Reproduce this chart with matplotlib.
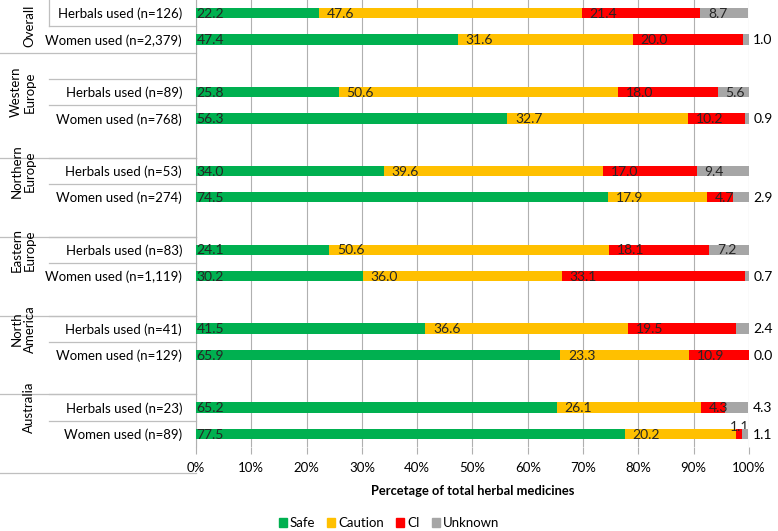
import matplotlib
matplotlib.use("Agg")
import matplotlib.pyplot as plt
from matplotlib.lines import Line2D
from matplotlib.patches import Patch
import numpy as np

plt.rcParams['font.family'] = ['Lato', 'DejaVu Sans']

# data (percent of total herbal medicines)
groups = ["Overall", "Western\nEurope", "Northern\nEurope", "Eastern\nEurope",
          "North\nAmerica", "Australia"]
row_labels = ["Herbals used (n=126)", "Women used (n=2,379)",
              "Herbals used (n=89)", "Women used (n=768)",
              "Herbals used (n=53)", "Women used (n=274)",
              "Herbals used (n=83)", "Women used (n=1,119)",
              "Herbals used (n=41)", "Women used (n=129)",
              "Herbals used (n=23)", "Women used (n=89)"]
safe = [22.2, 47.4, 25.8, 56.3, 34.0, 74.5, 24.1, 30.2, 41.5, 65.9, 65.2, 77.5]
caution = [47.6, 31.6, 50.6, 32.7, 39.6, 17.9, 50.6, 36.0, 36.6, 23.3, 26.1, 20.2]
ci = [21.4, 20.0, 18.0, 10.2, 17.0, 4.7, 18.1, 33.1, 19.5, 10.9, 4.3, 1.1]
unknown = [8.7, 1.0, 5.6, 0.9, 9.4, 2.9, 7.2, 0.7, 2.4, 0.0, 4.3, 1.1]

series = [("Safe", safe, "#00B050"), ("Caution", caution, "#FFC000"),
          ("CI", ci, "#FF0000"), ("Unknown", unknown, "#A6A6A6")]

# slot layout: Overall uses 2 slots, other groups have a blank slot first
ypos = []
for g in range(len(groups)):
    base = 0 if g == 0 else 3 * g
    ypos += [base, base + 1]
ypos = np.array(ypos)
nslots = 17
bar_h = 0.4

fig = plt.figure(figsize=(7.78, 5.31), dpi=100)
ax = fig.add_axes([196 / 778, 1 - 447 / 531, 553 / 778, 447 / 531])

left = np.zeros(len(ypos))
txt_col = "#262626"
fs = 10
for k, (name, vals, col) in enumerate(series):
    vals = np.array(vals)
    ax.barh(ypos, vals, left=left, height=bar_h, color=col, zorder=3)
    for i, v in enumerate(vals):
        lbl = f"{v:.1f}"
        if name == "Unknown" and v < 5:
            ax.annotate(lbl, (left[i] + v, ypos[i]), xytext=(3, -0.5),
                        textcoords="offset points", ha="left", va="center",
                        fontsize=fs, color="black", annotation_clip=False)
        elif name == "CI" and v < 2:
            ax.annotate(lbl, (left[i] + v / 2, ypos[i] - bar_h / 2),
                        xytext=(0, 1.5), textcoords="offset points",
                        ha="center", va="center", fontsize=fs, color=txt_col)
        else:
            off = 0.3 if k == 0 else 5.5
            ax.annotate(lbl, (left[i], ypos[i]), xytext=(off, -0.5),
                        textcoords="offset points", ha="left", va="center",
                        fontsize=fs, color=txt_col, zorder=5)
    left = left + vals

ax.set_xlim(0, 100)
ax.set_ylim(nslots - 0.5, -0.5)
ax.set_xticks(np.arange(0, 101, 10))
ax.set_xticklabels([f"{t}%" for t in range(0, 101, 10)], fontsize=9.5)
ax.tick_params(axis="x", length=5, color="#B0B0B0", pad=6)
ax.set_yticks(ypos)
ax.set_yticklabels(row_labels, fontsize=9.5)
ax.tick_params(axis="y", length=0, pad=10)
ax.grid(axis="x", color="#B0B0B0", lw=0.8, zorder=0)
for s in ["top", "right", "bottom"]:
    ax.spines[s].set_visible(False)
ax.spines["left"].set_color("#B0B0B0")
ax.set_xlabel("Percetage of total herbal medicines", fontsize=9.3,
              fontweight="bold", labelpad=8)

# category table lines on the left
tr = ax.get_yaxis_transform()
x_outer = -196 / 553
x_inner = (49 - 196) / 553
line_kw = dict(color="#BFBFBF", lw=0.9, transform=tr, clip_on=False)
bounds = [1.5] + [3 * g + 2.5 for g in range(1, len(groups))]
for b in bounds:
    ax.add_line(Line2D([x_outer, 0], [b, b], **line_kw))
inner = [0.5] + [v for g in range(1, len(groups)) for v in (3 * g - 0.5, 3 * g + 0.5)]
for b in inner:
    ax.add_line(Line2D([x_inner, 0], [b, b], **line_kw))
ax.add_line(Line2D([x_inner, x_inner], [-0.5, 0.5], **line_kw))

# group labels (single-line ones sit a bit further right)
centers = [0.5] + [3 * g for g in range(1, len(groups))]
for name, c in zip(groups, centers):
    xpx = 23 if "\n" in name else 29
    ax.text((xpx - 196) / 553, c, name, transform=tr, rotation=90, ha="center",
            va="center", fontsize=9.5, linespacing=1.15, multialignment="center")

handles = [Patch(color=col, label=name) for name, _, col in series]
fig.legend(handles=handles, loc="center", bbox_to_anchor=(0.5, 1 - 523 / 531),
           ncol=4, frameon=False, fontsize=9.5, handlelength=0.6,
           handleheight=0.7, handletextpad=0.25, columnspacing=0.9)

fig.savefig("out.png", dpi=100)
